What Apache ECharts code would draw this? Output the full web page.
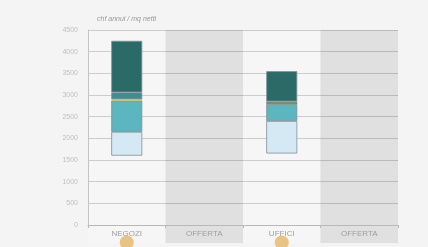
<!DOCTYPE html>
<html>
<head>
<meta charset="utf-8">
<script src="https://cdn.jsdelivr.net/npm/echarts@6/dist/echarts.min.js"></script>
<style>
  html, body { margin: 0; padding: 0; background: #f3f3f3; }
  #chart { width: 428px; height: 247px; }
</style>
</head>
<body>
<div id="chart"></div>
<script>
// 类别与刻度
const categories = ['NEGOZI', 'OFFERTA', 'UFFICI', 'OFFERTA'];
const yTicks = { min: 0, max: 4500, step: 500 };

// 各段数值（悬浮堆叠柱：底部透明段 + 各色段）
const baseVals   = [1600, '-', 1650, '-'];
const lightVals  = [550,  '-', 750,  '-'];
const tealVals   = [720,  '-', 390,  '-'];
const lineVals   = [30,   '-', 60,   '-'];
const midVals    = [160,  '-', '-',  '-'];
const darkVals   = [1190, '-', 700,  '-'];
// 圆点标记（仅在有柱的类别下方）
const dotCats    = ['NEGOZI', 'UFFICI'];

const chart = echarts.init(document.getElementById('chart'));

const segBorder = { borderColor: '#7f9096', borderWidth: 0.8 };

const option = {
  backgroundColor: '#f4f4f4',
  animation: false,
  title: {
    text: 'chf annui / mq netti', left: 92, top: 11,
    textStyle: { color: '#9a9a9a', fontSize: 7, fontStyle: 'italic', fontWeight: 'normal', fontFamily: 'Liberation Sans' }
  },
  grid: [
    { left: 88, right: 30, top: 30, bottom: 22 },
    { left: 88, right: 30, top: 30, bottom: 4 },
    { left: 88, right: 30, top: 238, bottom: -5 }
  ],
  xAxis: [
    {
      type: 'category', data: categories, gridIndex: 0, zlevel: 1,
      axisLine: { lineStyle: { color: '#b8b8b8' } },
      axisTick: { show: true, length: 3, lineStyle: { color: '#b8b8b8' } },
      axisLabel: { color: '#a0a0a0', fontSize: 8, margin: 5, fontFamily: 'Liberation Sans' },
      z: 3
    },
    {
      // 灰色背景带（OFFERTA 列），向下延伸覆盖标签区域
      type: 'category', data: categories, gridIndex: 1, zlevel: 0,
      axisLine: { show: false }, axisTick: { show: false }, axisLabel: { show: false },
      splitArea: { show: true, interval: 0, areaStyle: { color: ['#f6f6f6', '#e0e0e0'] } }
    },
    {
      type: 'category', data: categories, gridIndex: 2,
      axisLine: { show: false }, axisTick: { show: false }, axisLabel: { show: false }
    }
  ],
  yAxis: [
    {
      type: 'value', gridIndex: 0, min: yTicks.min, max: yTicks.max, interval: yTicks.step, zlevel: 1,
      axisLine: { show: true, lineStyle: { color: '#c4c4c4' } },
      axisTick: { show: false },
      axisLabel: { color: '#c0c0c0', fontSize: 7, margin: 10, fontFamily: 'Liberation Sans', formatter: v => String(v) },
      splitLine: { lineStyle: { color: 'rgba(0,0,0,0.17)', width: 1 } },
      z: 2
    },
    { type: 'value', gridIndex: 1, show: false },
    { type: 'category', gridIndex: 2, data: [''], show: false }
  ],
  series: [
    { name: 'base', type: 'bar', stack: 's', data: baseVals, barWidth: '40%', itemStyle: { color: 'rgba(0,0,0,0)' }, zlevel: 1, z: 4 },
    { name: 'light', type: 'bar', stack: 's', data: lightVals, itemStyle: Object.assign({ color: '#d4e9f4' }, segBorder), zlevel: 1, z: 4 },
    { name: 'teal', type: 'bar', stack: 's', data: tealVals, itemStyle: Object.assign({ color: '#5bb6bf' }, segBorder), zlevel: 1, z: 4 },
    {
      name: 'line', type: 'bar', stack: 's', zlevel: 1, z: 4,
      data: lineVals.map((v, i) => v === '-' ? v : { value: v, itemStyle: { color: i === 0 ? '#cfc23c' : '#7c8a70' } }),
      itemStyle: { borderWidth: 0 }
    },
    { name: 'mid', type: 'bar', stack: 's', data: midVals, itemStyle: Object.assign({ color: '#3f8c95' }, segBorder), zlevel: 1, z: 4 },
    { name: 'dark', type: 'bar', stack: 's', data: darkVals, itemStyle: Object.assign({ color: '#2b6b67' }, segBorder), zlevel: 1, z: 4 },
    {
      name: 'dot', type: 'scatter', xAxisIndex: 2, yAxisIndex: 2, zlevel: 1,
      data: dotCats.map(c => [c, '']), symbolSize: 14,
      itemStyle: { color: '#e6b667' }
    }
  ]
};

chart.setOption(option);
</script>
</body>
</html>
